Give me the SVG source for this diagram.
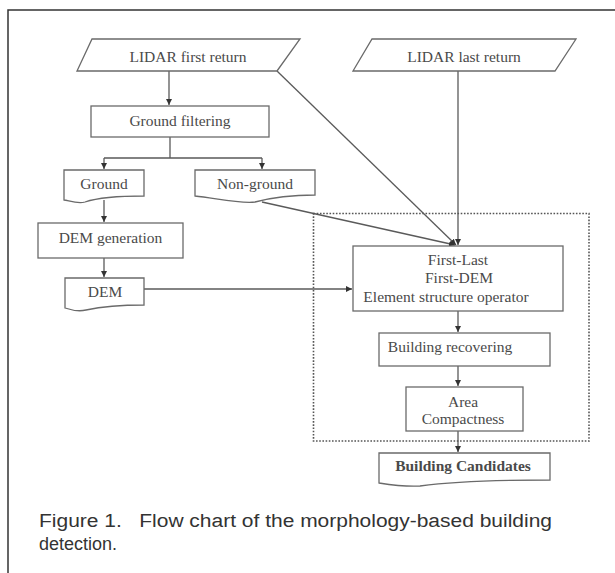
<svg xmlns="http://www.w3.org/2000/svg" width="615" height="573" viewBox="0 0 615 573">
<style>
.box{fill:#fff;stroke:#6a6a6a;stroke-width:1.3}
.t{font-family:"Liberation Serif","Times New Roman",serif;font-size:15.5px;fill:#4a4a4a;text-anchor:middle}
.b{font-weight:bold}
.ln{fill:none;stroke:#5a5a5a;stroke-width:1.3}
.cap{font-family:"Liberation Sans",Arial,sans-serif;font-size:18px;fill:#333}
</style>
<defs>
<marker id="ah" markerUnits="userSpaceOnUse" markerWidth="7" markerHeight="7" refX="6" refY="3" orient="auto">
<path d="M0,0 L6,3 L0,6 z" fill="#333"/>
</marker>
</defs>
<rect width="615" height="573" fill="#fff"/>
<path d="M8,573 V10 H615" fill="none" stroke="#333" stroke-width="1.5"/>

<g id="connectors" class="ln">
<path d="M169,71 V105" marker-end="url(#ah)"/>
<path d="M170,137 V158 M104,158 H262"/>
<path d="M104,158 V169" marker-end="url(#ah)"/>
<path d="M262,158 V169" marker-end="url(#ah)"/>
<path d="M104,200 V222" marker-end="url(#ah)"/>
<path d="M104,258 V277" marker-end="url(#ah)"/>
<path d="M144,289 H352" marker-end="url(#ah)"/>
<path d="M277,71 L456,245" marker-end="url(#ah)"/>
<path d="M458,71 V245" marker-end="url(#ah)"/>
<path d="M262,202 L455,245" marker-end="url(#ah)"/>
<path d="M458,311 V332" marker-end="url(#ah)"/>
<path d="M458,366 V386" marker-end="url(#ah)"/>
<path d="M458,431 V452" marker-end="url(#ah)"/>
</g>

<g id="module">
<rect x="313.5" y="213.5" width="275.5" height="227.5" fill="none" stroke="#555" stroke-width="1.6" stroke-dasharray="1.6 1.6"/>
</g>

<g id="lidar-first">
<path class="box" d="M92,39 H300 L277,71 H77 Z"/>
<text class="t" x="188" y="62">LIDAR first return</text>
</g>
<g id="lidar-last">
<path class="box" d="M372,39 H576 L555,71 H353 Z"/>
<text class="t" x="464" y="62">LIDAR last return</text>
</g>
<g id="ground-filtering">
<rect class="box" x="91" y="106" width="178" height="31"/>
<text class="t" x="180" y="126">Ground filtering</text>
</g>
<g id="ground">
<path class="box" d="M64,170 H144 V196 C120,196 100,197 85,202 C78,204 70,201 64,200 Z"/>
<text class="t" x="104" y="189">Ground</text>
</g>
<g id="non-ground">
<path class="box" d="M195,170 H315 V195 C290,195 270,198 255,202 C240,204 215,198 195,196 Z"/>
<text class="t" x="255" y="189">Non-ground</text>
</g>
<g id="dem-generation">
<rect class="box" x="38" y="223" width="145" height="35"/>
<text class="t" x="110.5" y="243">DEM generation</text>
</g>
<g id="dem">
<path class="box" d="M65,278 H144 V305 C120,305 100,307 86,310 C78,312 71,310 65,308 Z"/>
<text class="t" x="105" y="297">DEM</text>
</g>
<g id="operators">
<rect class="box" x="353" y="246" width="210" height="65"/>
<text class="t" x="458" y="265">First-Last</text>
<text class="t" x="459" y="283">First-DEM</text>
<text class="t" x="446" y="302">Element structure operator</text>
</g>
<g id="building-recovering">
<rect class="box" x="379" y="333" width="171" height="33"/>
<text class="t" x="450" y="352">Building recovering</text>
</g>
<g id="area-compactness">
<rect class="box" x="406" y="387" width="117" height="44"/>
<text class="t" x="463" y="407">Area</text>
<text class="t" x="463" y="424">Compactness</text>
</g>
<g id="building-candidates">
<path class="box" d="M379,453 H550 V480 C500,480 450,482 420,486 C405,487 392,485 379,483 Z"/>
<text class="t b" x="463" y="471">Building Candidates</text>
</g>

<g id="caption">
<text class="cap" x="39" y="527" textLength="513" lengthAdjust="spacingAndGlyphs" xml:space="preserve">Figure 1.   Flow chart of the morphology-based building</text>
<text class="cap" x="39" y="550">detection.</text>
</g>
</svg>
